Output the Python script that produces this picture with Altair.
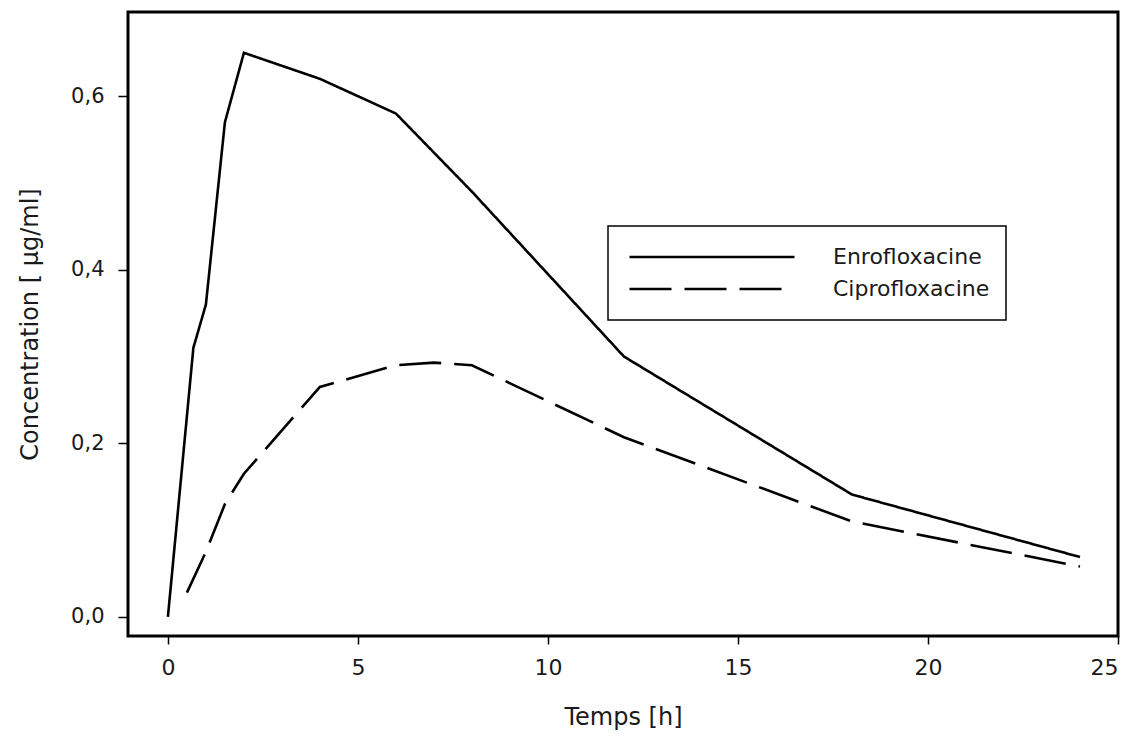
import altair as alt
import pandas as pd

# Data
enro_time = [0, 0.67, 1, 1.5, 2, 4, 6, 8, 12, 18, 24]
enro_conc = [0.0, 0.31, 0.36, 0.57, 0.65, 0.62, 0.58, 0.49, 0.30, 0.141, 0.069]

cipro_time = [0.5, 1, 1.5, 2, 4, 6, 7, 8, 12, 18, 24]
cipro_conc = [0.028, 0.075, 0.13, 0.165, 0.265, 0.29, 0.293, 0.29, 0.207, 0.11, 0.058]

series_names = ["Enrofloxacine", "Ciprofloxacine"]
x_ticks = [0, 5, 10, 15, 20, 25]
y_ticks = [0.0, 0.2, 0.4, 0.6]

rows = []
for t, c in zip(enro_time, enro_conc):
    rows.append({"t": t, "c": c, "serie": series_names[0]})
for t, c in zip(cipro_time, cipro_conc):
    rows.append({"t": t, "c": c, "serie": series_names[1]})
df = pd.DataFrame(rows)

FONT = "DejaVu Sans"
TXT = "#1a1a1a"

chart = (
    alt.Chart(df)
    .mark_line(color="black", strokeWidth=2.6, clip=True)
    .encode(
        x=alt.X(
            "t:Q",
            scale=alt.Scale(domain=[-1.05, 25], nice=False, zero=False),
            axis=alt.Axis(
                values=x_ticks,
                title="Temps [h]",
                titleFontSize=24,
                titleFont=FONT,
                titleFontWeight="normal",
                titleColor=TXT,
                titlePadding=27,
                labelFontSize=22,
                labelFont=FONT,
                labelColor=TXT,
                labelPadding=13,
                tickSize=8,
                tickWidth=1.5,
                tickColor="black",
                domain=False,
                grid=False,
            ),
        ),
        y=alt.Y(
            "c:Q",
            scale=alt.Scale(domain=[-0.022, 0.697], nice=False, zero=False),
            axis=alt.Axis(
                values=y_ticks,
                labelExpr="replace(format(datum.value, '.1f'), '.', ',')",
                title="Concentration [ µg/ml]",
                titleFontSize=24,
                titleFont=FONT,
                titleFontWeight="normal",
                titleColor=TXT,
                titlePadding=28,
                labelFontSize=21,
                labelFont=FONT,
                labelColor=TXT,
                labelPadding=14,
                tickSize=10,
                tickWidth=1.5,
                tickColor="black",
                domain=False,
                grid=False,
            ),
        ),
        strokeDash=alt.StrokeDash(
            "serie:N",
            scale=alt.Scale(domain=series_names, range=[[1, 0], [42, 13]]),
            legend=alt.Legend(
                title=None,
                orient="none",
                legendX=480,
                legendY=214,
                strokeColor="black",
                padding=16,
                symbolType="stroke",
                symbolSize=27225,
                symbolStrokeWidth=2.6,
                symbolStrokeColor="black",
                symbolOffset=4,
                clipHeight=30,
                rowPadding=2,
                labelFontSize=22,
                labelFont=FONT,
                labelColor=TXT,
                labelOffset=37,
                labelLimit=400,
            ),
        ),
    )
    .properties(
        width=990,
        height=624,
        autosize=alt.AutoSizeParams(type="none"),
        padding={"left": 120, "top": 4, "right": 10, "bottom": 100},
    )
    .configure_view(stroke="black", strokeWidth=3)
    .configure_legend(strokeWidth=1.5)
)

chart.save("out.html", embed_options={"renderer": "svg", "actions": False})
